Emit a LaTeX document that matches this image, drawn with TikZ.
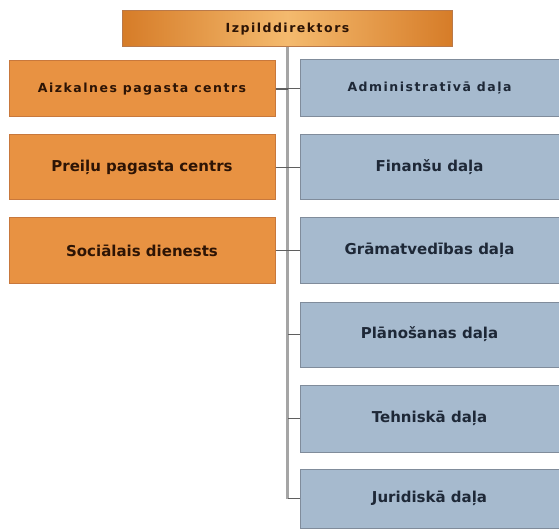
\documentclass[tikz,border=0pt]{standalone}
\usepackage{fontspec}
\setmainfont{DejaVu Sans}
\newfontfamily\smallfnt{DejaVu Sans}[LetterSpace=12]
\definecolor{orgbox}{RGB}{232,146,66}
\definecolor{orgedge}{RGB}{200,120,60}
\definecolor{orgdark}{RGB}{214,124,40}
\definecolor{orglight}{RGB}{244,186,110}
\definecolor{bluebox}{RGB}{166,186,206}
\definecolor{blueedge}{RGB}{128,140,155}
\definecolor{txtbrown}{RGB}{45,20,5}
\definecolor{txtblue}{RGB}{30,40,55}
\definecolor{spinecol}{RGB}{165,165,165}
\definecolor{tickcol}{RGB}{95,95,95}
\begin{document}
\begin{tikzpicture}[x=1pt,y=-1pt,
  box/.style={rectangle,inner sep=0pt,line width=1pt,align=center,font=\bfseries},
  leftbox/.style={box,fill=orgbox,draw=orgedge,text=txtbrown,minimum width=266pt},
  rightbox/.style={box,fill=bluebox,draw=blueedge,text=txtblue,minimum width=259pt},
  smalltxt/.style={font=\smallfnt\bfseries\fontsize{12.5}{15}\selectfont},
  bigtxt/.style={font=\bfseries\fontsize{15}{18}\selectfont},
  spine/.style={draw=spinecol,line width=2.5pt},
  tick/.style={draw=tickcol,line width=1.2pt}]
\useasboundingbox (0,0) rectangle (559,529);
\fill[white] (0,0) rectangle (559,529);
% top
\node[box,smalltxt,text=txtbrown,draw=orgedge!80!gray,minimum width=330pt,minimum height=36pt,
  left color=orgdark,right color=orgdark,middle color=orglight] (top) at (287.5,29) {Izpilddirektors};
% left boxes
\node[leftbox,smalltxt,minimum height=56pt] (L1) at (142,89) {Aizkalnes pagasta centrs};
\node[leftbox,bigtxt,minimum height=65pt] (L2) at (142,167.5) {Preiļu pagasta centrs};
\node[leftbox,bigtxt,minimum height=65pt] (L3) at (142,250.5) {Sociālais dienests};
% right boxes
\node[rightbox,smalltxt,minimum height=57pt] (R1) at (429.5,88.5) {Administratīvā daļa};
\node[rightbox,bigtxt,minimum height=65pt] (R2) at (429.5,167.5) {Finanšu daļa};
\node[rightbox,bigtxt,minimum height=65pt] (R3) at (429.5,250.5) {Grāmatvedības daļa};
\node[rightbox,bigtxt,minimum height=65pt] (R4) at (429.5,334.5) {Plānošanas daļa};
\node[rightbox,bigtxt,minimum height=67pt] (R5) at (429.5,418.5) {Tehniskā daļa};
\node[rightbox,bigtxt,minimum height=59pt] (R6) at (429.5,498.5) {Juridiskā daļa};
% spine
\coordinate (spineend) at (R6.west -| top.south);
\draw[spine] (top.south) -- (spineend);
% ticks
\foreach \n in {L1,L2,L3}{\draw[tick] (\n.east) -- (\n.east -| top.south);}
\foreach \n in {R1,R2,R3,R4,R5,R6}{\draw[tick] (\n.west) -- (\n.west -| top.south);}
\end{tikzpicture}
\end{document}
